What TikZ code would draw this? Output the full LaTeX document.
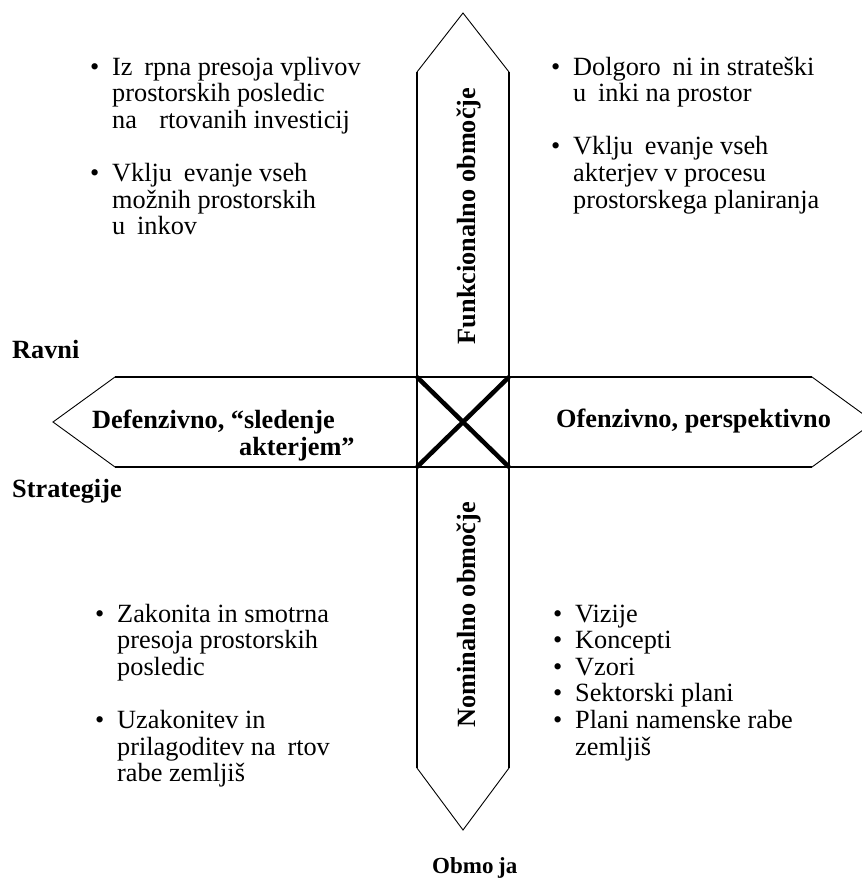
\documentclass[tikz,border=0pt]{standalone}
\usepackage{fontspec}
\setmainfont{Liberation Serif}
\newcommand\gp{\hspace{0.45em}}
\newcommand\bt{\makebox[22pt][l]{•}}
\newcommand\ii{\hspace*{22pt}}
\begin{document}
\begin{tikzpicture}[x=1pt,y=-1pt,
  shaft/.style={line width=1.6pt},
  slant/.style={line width=0.9pt, line join=miter},
  cross/.style={line width=4.5pt},
  lbl/.style={font=\fontsize{26.3}{26.6}\selectfont\bfseries, inner sep=0pt},
  txt/.style={font=\fontsize{26.3}{26.6}\selectfont, inner sep=0pt, anchor=base west}]
\useasboundingbox (0,0) rectangle (862,884);
\clip (0,0) rectangle (862,884);
\fill[white] (0,0) rectangle (862,884);
% vertical arrow
\coordinate (vtl) at (417,72);
\coordinate (vtr) at (509,72);
\coordinate (vtip) at (463,13);
\coordinate (vbl) at (417,768);
\coordinate (vbr) at (509,768);
\coordinate (vbot) at (463,830);
% horizontal arrow
\coordinate (hlt) at (115,377);
\coordinate (hlb) at (115,467);
\coordinate (hltip) at (53,422);
\coordinate (hrt) at (812,377);
\coordinate (hrb) at (812,467);
\coordinate (hrtip) at (874,422);
% centre square corners
\coordinate (c1) at (417,377);
\coordinate (c2) at (509,377);
\coordinate (c3) at (509,467);
\coordinate (c4) at (417,467);

\draw[shaft] (vtl) -- (vbl);
\draw[shaft] (vtr) -- (vbr);
\draw[shaft] (hlt) -- (hrt);
\draw[shaft] (hlb) -- (hrb);
\draw[slant] (vtl) -- (vtip) -- (vtr);
\draw[slant] (vbl) -- (vbot) -- (vbr);
\draw[slant] (hlt) -- (hltip) -- (hlb);
\draw[slant] (hrt) -- (hrtip) -- (hrb);
\draw[cross] (c1) -- (c3);
\draw[cross] (c2) -- (c4);

% labels
\node[lbl, anchor=base west] (ravni) at (12,358) {Ravni};
\node[lbl, anchor=base west] (strat) at (12,497) {Strategije};
\node[lbl, anchor=base west] (def1) at (92,428) {Defenzivno, “sledenje};
\node[lbl, anchor=base west] (def2) at (239,455) {akterjem”};
\node[lbl, anchor=base west] (ofe) at (556,427) {Ofenzivno, perspektivno};
\node[lbl, anchor=base, rotate=90] (funk) at (475,216) {Funkcionalno območje};
\node[lbl, anchor=base, rotate=90] (nom) at (475,615) {Nominalno območje};
\node[lbl, anchor=base west, font=\fontsize{23}{24}\selectfont\bfseries] (obm) at (432,873) {Obmo\hspace{0.2em}ja};

% bullet texts
\node[txt] (tl) at (90,75) {\parbox[t]{330pt}{\bt Iz\gp rpna presoja vplivov\\ \ii prostorskih posledic\\ \ii na\hspace{0.85em}rtovanih investicij\\[26.6pt] \bt Vklju\gp evanje vseh\\ \ii možnih prostorskih\\ \ii u\gp inkov}};
\node[txt] (tr) at (551,75) {\parbox[t]{310pt}{\bt Dolgoro\gp ni in strateški\\ \ii u\gp inki na prostor\\[26.6pt] \bt Vklju\gp evanje vseh\\ \ii akterjev v procesu\\ \ii prostorskega planiranja}};
\node[txt] (bl) at (95,622) {\parbox[t]{310pt}{\bt Zakonita in smotrna\\ \ii presoja prostorskih\\ \ii posledic\\[26.6pt] \bt Uzakonitev in\\ \ii prilagoditev na\gp rtov\\ \ii rabe zemljiš}};
\node[txt] (br) at (553,622) {\parbox[t]{310pt}{\bt Vizije\\ \bt Koncepti\\ \bt Vzori\\ \bt Sektorski plani\\ \bt Plani namenske rabe\\ \ii zemljiš}};
\end{tikzpicture}
\end{document}
